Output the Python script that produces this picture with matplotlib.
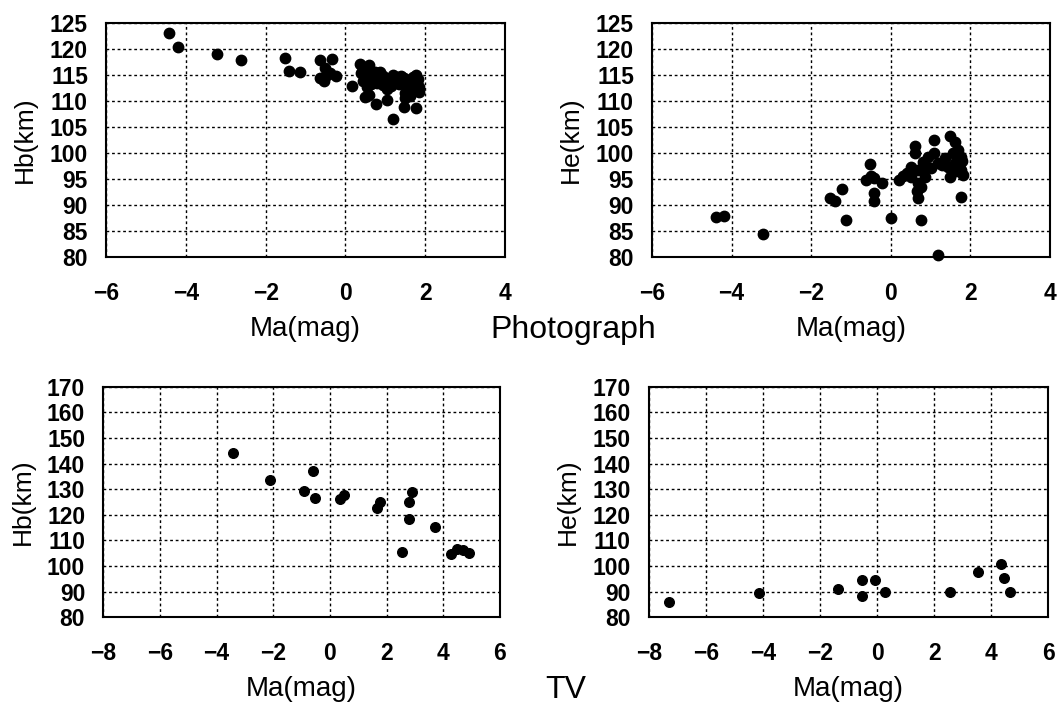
import matplotlib
matplotlib.use("Agg")
import matplotlib.pyplot as plt
import numpy as np

plt.rcParams["font.family"] = ["Liberation Sans", "DejaVu Sans"]

# Photograph: magnitude vs beginning height
photo_hb_ma = [-4.41, -4.20, -3.21, -2.61, -1.52, -1.42, -1.14, -0.64, -0.33, -0.51,
               -0.64, -0.54, -0.39, -0.24, -0.45, 0.17,
               0.37, 0.58, 0.45, 0.55, 0.40, 0.62, 0.75, 0.87, 0.50, 0.70,
               0.85, 0.95, 1.05, 1.19, 1.30, 1.40, 1.47, 1.60, 1.77, 1.82,
               0.53, 0.65, 0.80, 0.95, 1.03, 1.15, 1.20, 1.35, 1.54, 1.66,
               1.79, 1.75, 1.85, 1.65, 1.50, 1.85, 1.10, 1.45, 0.60, 0.90,
               1.25, 1.70, 0.45, 1.00,
               0.49, 0.60, 0.77, 1.05, 1.18, 1.47, 1.50, 1.62, 1.77]
photo_hb = [123.0, 120.4, 119.0, 117.9, 118.2, 115.8, 115.6, 117.8, 118.1, 116.3,
            114.4, 113.8, 115.3, 114.8, 115.0, 112.9,
            117.2, 117.0, 116.2, 115.8, 115.3, 115.2, 115.6, 115.6, 114.5, 114.0,
            114.5, 114.8, 114.2, 115.0, 114.6, 114.8, 114.4, 114.0, 115.0, 114.3,
            112.75, 113.2, 113.5, 113.0, 112.4, 112.8, 113.4, 113.2, 112.75, 113.7,
            113.7, 112.1, 112.6, 112.3, 111.5, 111.8, 113.8, 113.5, 114.0, 113.8,
            114.0, 114.6, 113.8, 114.5,
            110.7, 111.2, 109.4, 110.1, 106.6, 108.9, 110.5, 111.0, 108.7]

# Photograph: magnitude vs end height
photo_he_ma = [-4.40, -4.20, -3.21, -1.52, -1.40, -1.22, -1.12, -0.51, -0.62, -0.43,
               -0.22, -0.42, -0.42, -0.50, 0.01, 0.21,
               0.61, 0.61, 0.52, 0.40, 0.69, 0.69, 0.65, 0.69, 0.82, 0.86,
               0.77, 1.09, 1.09, 1.19, 1.02, 1.19, 0.94, 0.52, 0.86, 0.75, 0.30,
               1.48, 1.61, 1.69, 1.77, 1.61, 1.44, 1.48, 1.77, 1.81, 1.77,
               1.36, 1.56, 1.73, 1.30, 1.65, 1.80]
photo_he = [87.7, 87.9, 84.4, 91.3, 90.8, 93.0, 87.2, 97.9, 94.8, 95.1,
            94.2, 92.4, 90.8, 95.5, 87.5, 94.8,
            101.4, 100.0, 97.4, 96.1, 96.7, 94.2, 92.6, 91.3, 98.3, 95.4,
            87.2, 102.5, 100.0, 98.0, 97.1, 80.4, 99.3, 95.4, 97.4, 93.5, 95.5,
            103.2, 102.2, 100.6, 99.3, 98.0, 97.4, 95.4, 96.7, 95.8, 91.6,
            99.0, 100.0, 98.0, 97.6, 96.5, 98.5]

# TV
tv_hb_ma = [-3.41, -2.10, -0.92, -0.61, -0.52, 0.37, 0.49, 1.66, 1.78, 2.90,
            2.79, 2.79, 2.56, 3.69, 4.28, 4.49, 4.70, 4.90]
tv_hb = [144.0, 133.6, 129.4, 137.2, 126.7, 126.0, 127.7, 122.8, 125.1, 129.0,
         125.0, 118.5, 105.6, 115.4, 104.7, 106.8, 106.3, 105.2]

tv_he_ma = [-7.31, -4.13, -1.36, -0.54, -0.54, -0.06, 0.26, 2.56, 3.55, 4.35, 4.46, 4.67]
tv_he = [85.9, 89.4, 90.9, 94.4, 88.2, 94.4, 90.0, 89.75, 97.5, 100.8, 95.2, 90.0]

photo_xticks = [-6, -4, -2, 0, 2, 4]
photo_yticks = [80, 85, 90, 95, 100, 105, 110, 115, 120, 125]
tv_xticks = [-8, -6, -4, -2, 0, 2, 4, 6]
tv_yticks = [80, 90, 100, 110, 120, 130, 140, 150, 160, 170]

TICK_FONT = ["Liberation Sans Narrow", "Liberation Sans", "DejaVu Sans"]


def setup_panel(ax, xticks, yticks, ylabel, xlab_y):
    ax.set_xlim(xticks[0], xticks[-1])
    ax.set_ylim(yticks[0], yticks[-1])
    ax.set_xticks(xticks)
    ax.set_yticks(yticks)
    ax.tick_params(length=0)
    ax.tick_params(axis="x", pad=18)
    ax.tick_params(axis="y", pad=13)
    for lab in ax.get_xticklabels() + ax.get_yticklabels():
        lab.set_fontweight("bold")
        lab.set_fontsize(16.5)
        lab.set_family(TICK_FONT)
    ax.grid(True, color="black", linestyle=(0, (2, 2)), linewidth=1.0)
    ax.set_axisbelow(True)
    for sp in ax.spines.values():
        sp.set_linewidth(1.5)
        sp.set_color("black")
    ax.set_xlabel("Ma(mag)", fontsize=20)
    ax.set_ylabel(ylabel, fontsize=19)
    ax.xaxis.set_label_coords(0.5, xlab_y)
    ax.yaxis.set_label_coords(-0.173, 0.5)


fig = plt.figure(figsize=(10.57, 7.03), dpi=100)

ax1 = fig.add_axes([0.1003, 0.6344, 0.3775, 0.3329])
ax1.scatter(photo_hb_ma, photo_hb, s=56, color="black", zorder=3)
setup_panel(ax1, photo_xticks, photo_yticks, "Hb(km)", -0.25)

ax2 = fig.add_axes([0.6168, 0.6344, 0.3765, 0.3329])
ax2.scatter(photo_he_ma, photo_he, s=56, color="black", zorder=3, clip_on=False)
setup_panel(ax2, photo_xticks, photo_yticks, "He(km)", -0.25)

ax3 = fig.add_axes([0.0977, 0.1219, 0.3753, 0.328])
ax3.scatter(tv_hb_ma, tv_hb, s=48, color="black", zorder=3)
setup_panel(ax3, tv_xticks, tv_yticks, "Hb(km)", -0.255)

ax4 = fig.add_axes([0.614, 0.1219, 0.3778, 0.328])
ax4.scatter(tv_he_ma, tv_he, s=48, color="black", zorder=3)
setup_panel(ax4, tv_xticks, tv_yticks, "He(km)", -0.255)

fig.text(0.542, 1 - 330 / 703, "Photograph", fontsize=23, ha="center", va="center")
fig.text(0.535, 1 - 690 / 703, "TV", fontsize=23, ha="center", va="center")

plt.savefig("out.png", dpi=100)
plt.close()
